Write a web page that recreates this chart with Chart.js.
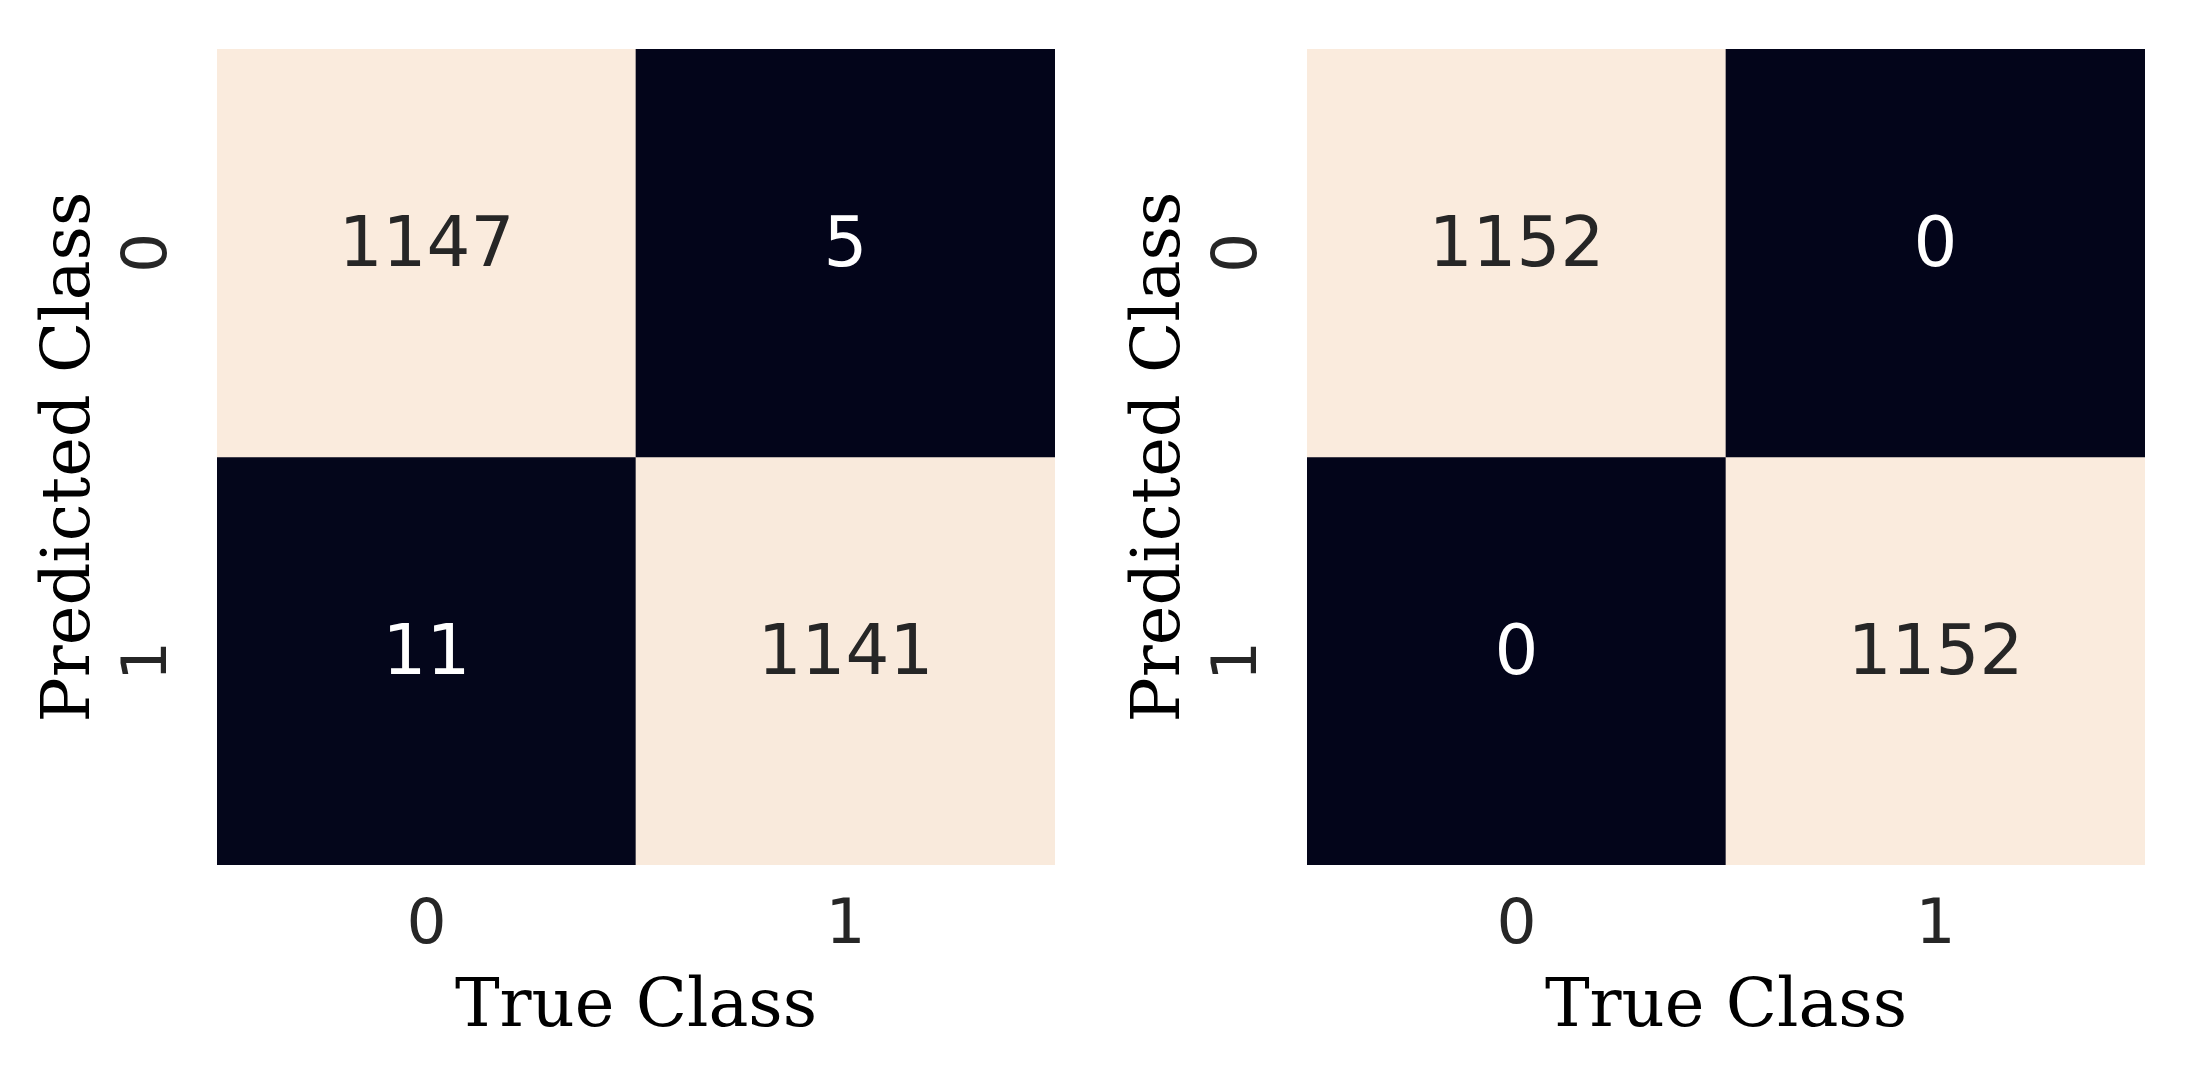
<!DOCTYPE html>
<html>
<head>
<meta charset="utf-8">
<script src="https://cdn.jsdelivr.net/npm/chart.js@4"></script>
<style>
  body { margin: 0; background: #ffffff; }
  .panel { position: absolute; top: 0; }
</style>
</head>
<body>
<canvas id="cmLeft" class="panel" width="1100" height="1077" style="left:0px"></canvas>
<canvas id="cmRight" class="panel" width="1100" height="1077" style="left:1090px"></canvas>
<script>
// class labels shared by both axes
const classLabels = ["0", "1"];
// rows = predicted class, columns = true class
const matrixLeft = [[1147, 5], [11, 1141]];
const matrixRight = [[1152, 0], [0, 1152]];

const xTitle = "True Class";
const yTitle = "Predicted Class";

// rocket colormap ends
const lowColor = [3, 5, 26];
const highColor = [250, 235, 221];

function cellColor(v, lo, hi) {
  const t = hi === lo ? 0 : (v - lo) / (hi - lo);
  const c = lowColor.map((a, i) => Math.round(a + (highColor[i] - a) * t));
  return "rgb(" + c.join(",") + ")";
}

function textColor(v, lo, hi) {
  const t = hi === lo ? 0 : (v - lo) / (hi - lo);
  return t > 0.5 ? "#262626" : "#ffffff";
}

/* draw the numbers in each cell */
const annotate = {
  id: "annotate",
  afterDatasetsDraw(chart) {
    const ctx = chart.ctx;
    const matrix = chart.options.plugins.annotate.matrix;
    const flat = matrix.flat();
    const lo = Math.min(...flat), hi = Math.max(...flat);
    ctx.save();
    ctx.font = "69px 'DejaVu Sans'";
    ctx.textAlign = "center";
    ctx.textBaseline = "middle";
    chart.data.datasets.forEach((ds, r) => {
      chart.getDatasetMeta(r).data.forEach((bar, c) => {
        const p = bar.getCenterPoint();
        const v = matrix[r][c];
        ctx.fillStyle = textColor(v, lo, hi);
        ctx.fillText(String(v), p.x, p.y - 5);
      });
    });
    ctx.restore();
  }
};

function makeChart(id, matrix) {
  const flat = matrix.flat();
  const lo = Math.min(...flat), hi = Math.max(...flat);

  const datasets = matrix.map((row, r) => ({
    label: "row " + classLabels[r],
    data: row.map(() => [r, r + 1]),
    backgroundColor: row.map(v => cellColor(v, lo, hi)),
    borderWidth: 0,
    borderSkipped: false,
    grouped: false,
    barPercentage: 1,
    categoryPercentage: 1
  }));

  return new Chart(document.getElementById(id).getContext("2d"), {
    type: "bar",
    data: { labels: classLabels, datasets: datasets },
    options: {
      responsive: false,
      animation: false,
      devicePixelRatio: 1,
      layout: { padding: { top: 49, right: 45, left: 0, bottom: 0 } },
      plugins: {
        legend: { display: false },
        tooltip: { enabled: false },
        annotate: { matrix: matrix }
      },
      scales: {
        x: {
          type: "category",
          offset: true,
          grid: { display: false, drawTicks: false },
          border: { display: false },
          ticks: {
            color: "#262626",
            font: { family: "DejaVu Sans", size: 63 },
            padding: 24,
            maxRotation: 0
          },
          title: {
            display: true,
            text: xTitle,
            color: "#000000",
            font: { family: "DejaVu Serif", size: 67 },
            padding: { top: 0, bottom: 28 }
          },
          afterFit: s => {
            s.height = 212;
            s.paddingLeft = 0;
            s.paddingRight = 0;
          }
        },
        y: {
          type: "linear",
          min: 0,
          max: 2,
          reverse: true,
          grid: { display: false, drawTicks: false },
          border: { display: false },
          afterBuildTicks: s => { s.ticks = [{ value: 0.5 }, { value: 1.5 }]; },
          ticks: {
            color: "#262626",
            font: { family: "DejaVu Sans", size: 63 },
            minRotation: 90,
            maxRotation: 90,
            crossAlign: "center",
            padding: 47,
            callback: v => classLabels[Math.floor(v)]
          },
          title: {
            display: true,
            text: yTitle,
            color: "#000000",
            font: { family: "DejaVu Serif", size: 67 },
            padding: { top: 31, bottom: 0 }
          },
          afterFit: s => {
            s.width = 217;
            s.paddingTop = 0;
            s.paddingBottom = 0;
          }
        }
      }
    },
    plugins: [annotate]
  });
}

makeChart("cmLeft", matrixLeft);
makeChart("cmRight", matrixRight);
</script>
</body>
</html>
